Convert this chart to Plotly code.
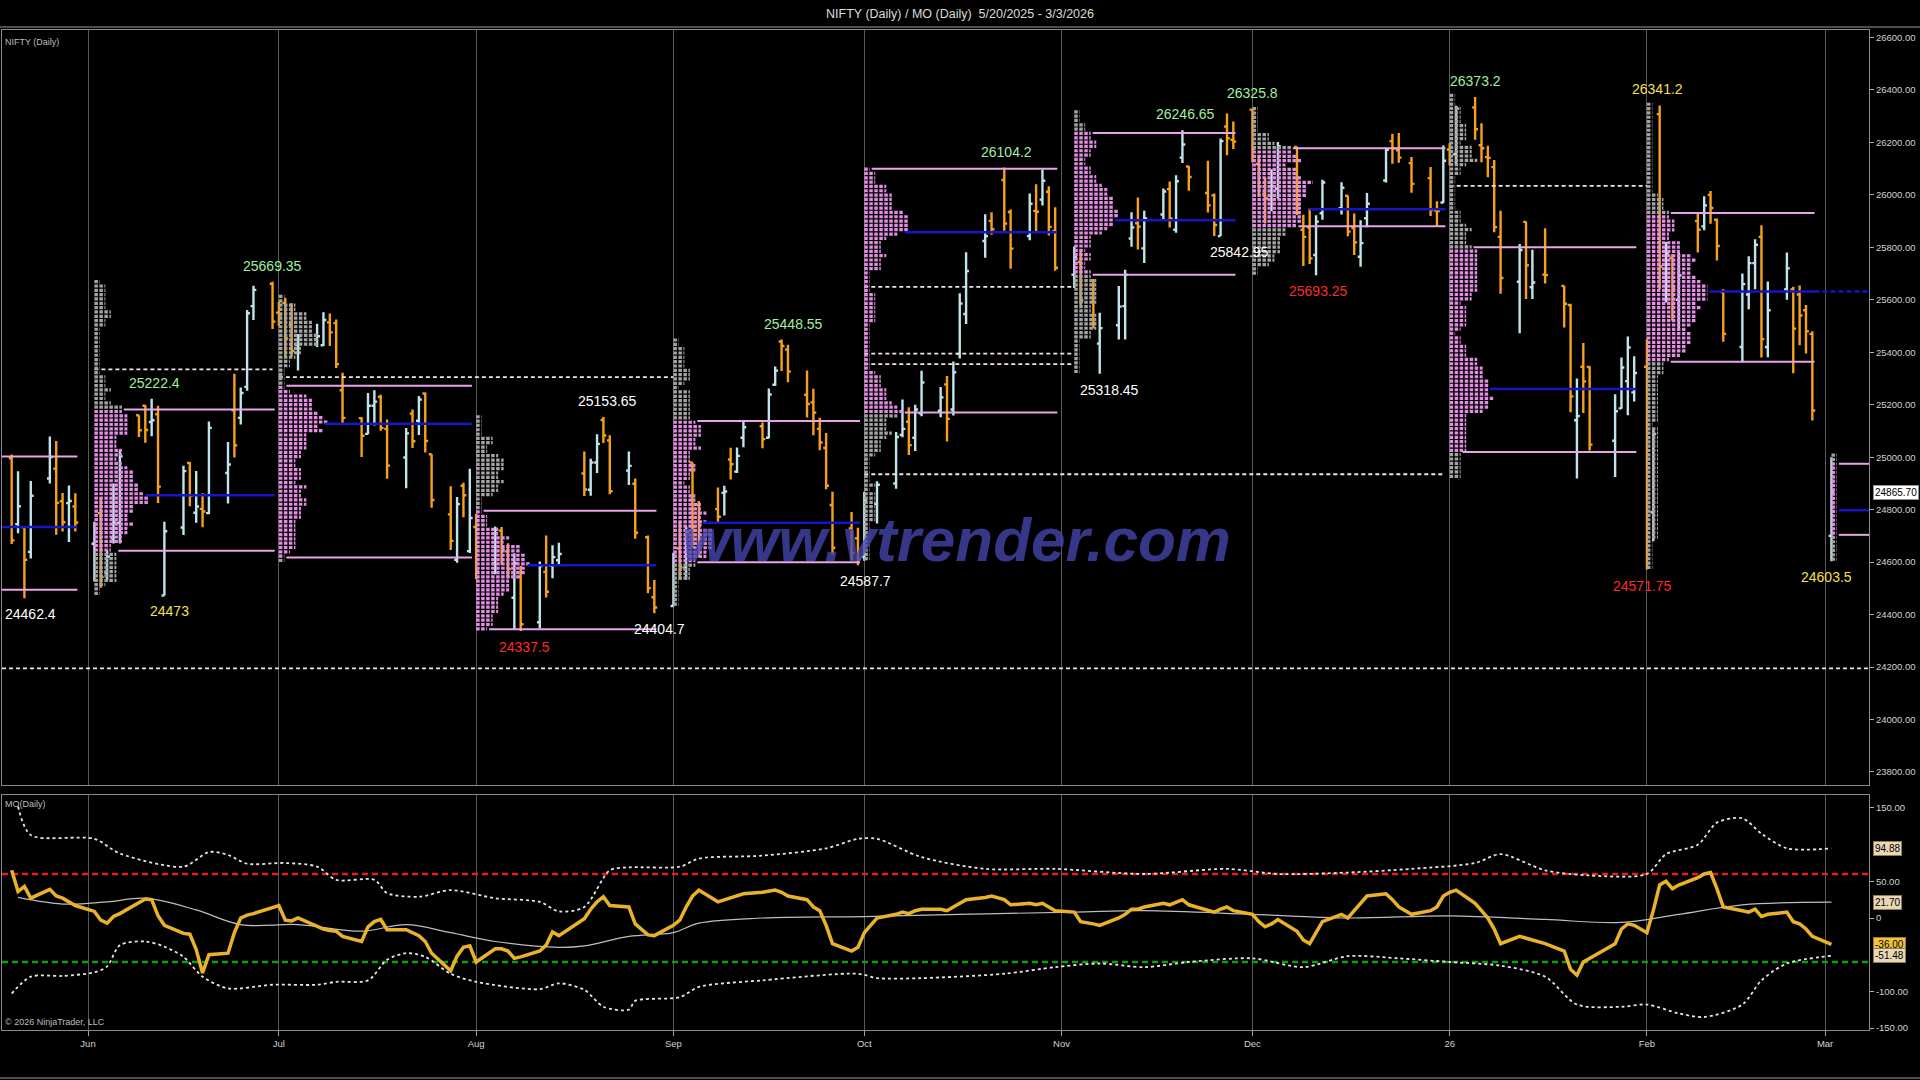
import pandas as pd
import plotly.graph_objects as go

# ---------------- DATA ----------------
trading_days = {
    "2025-05": [20, 21, 22, 23, 26, 27, 28, 29, 30],
    "2025-06": [2, 3, 4, 5, 6, 9, 10, 11, 12, 13, 16, 17, 18, 19, 20, 23, 24, 25, 26, 27, 30],
    "2025-07": [1, 2, 3, 4, 7, 8, 9, 10, 11, 14, 15, 16, 17, 18, 21, 22, 23, 24, 25, 28, 29, 30, 31],
    "2025-08": [1, 4, 5, 6, 7, 8, 11, 12, 13, 14, 18, 19, 20, 21, 22, 25, 26, 28, 29],
    "2025-09": [1, 2, 3, 4, 5, 8, 9, 10, 11, 12, 15, 16, 17, 18, 19, 22, 23, 24, 25, 26, 29, 30],
    "2025-10": [1, 3, 6, 7, 8, 9, 10, 13, 14, 15, 16, 17, 20, 21, 23, 24, 27, 28, 29, 30, 31],
    "2025-11": [3, 4, 6, 7, 10, 11, 12, 13, 14, 17, 18, 19, 20, 21, 24, 25, 26, 27, 28],
    "2025-12": [1, 2, 3, 4, 5, 8, 9, 10, 11, 12, 15, 16, 17, 18, 19, 22, 23, 24, 26, 29, 30, 31],
    "2026-01": [1, 2, 5, 6, 7, 8, 9, 12, 13, 14, 16, 19, 20, 21, 22, 23, 27, 28, 29, 30],
    "2026-02": [1, 2, 3, 4, 5, 6, 9, 10, 11, 12, 13, 16, 17, 18, 19, 20, 23, 24, 25, 26, 27],
    "2026-03": [2],
}

opens = [
    24996, 24745, 24733, 24639, 24919, 24956, 24832, 24825, 24812,
    24670, 24787, 24560, 24691, 24749, 25160, 25196, 25134, 25164, 24473, 24732, 24978, 24788, 24803, 24787, 24940, 25179, 25150, 25268, 25576, 25661,
    25551, 25588, 25505, 25428, 25450, 25427, 25514, 25511, 25255, 25149, 25089, 25196, 25230, 25108, 24999, 25166, 25139, 25243, 25011, 24782, 24609, 24891, 24642,
    24734, 24596, 24720, 24641, 24464, 24544, 24371, 24563, 24586, 24607, 24938, 24876, 24980, 25142, 25064, 24949, 24899, 24695, 24466,
    24433, 24653, 24579, 24980, 24819, 24802, 24864, 24991, 24945, 25074, 25118, 25074, 25276, 25441, 25410, 25238, 25209, 25108, 25035, 24818, 24728, 24691,
    24620, 24822, 24900, 25085, 25135, 25074, 25167, 25177, 25277, 25182, 25394, 25546, 25824, 25901, 26057, 25935, 25843, 25939, 25982, 26012, 25863,
    25696, 25744, 25593, 25433, 25503, 25576, 25834, 25892, 25796, 25925, 26022, 25867, 26142, 26108, 26007, 25998, 25843, 26261, 26210,
    26325, 26118, 26005, 25981, 26024, 26183, 25867, 25876, 25771, 25930, 25949, 25997, 25874, 25764, 25911, 26055, 26205, 26170, 26121, 26064, 25940, 25971,
    26173, 26155, 26333, 26189, 26144, 26106, 25840, 25669, 25897, 25648, 25696, 25653, 25580, 25141, 25345, 25344, 25063, 25186, 25290, 25247,
    25345, 24790, 26308, 25700, 25760, 25600, 25900, 25880, 26000, 25905, 25630, 25420, 25620, 25740, 25840, 25420, 25640, 25640, 25620, 25560, 25470,
    24700,
]
highs = [
    25010, 24946, 24737, 24909, 25079, 25062, 24864, 24892, 24863,
    24754, 24845, 24644, 24900, 25029, 25160, 25199, 25222.4, 25196, 24754, 24967, 24982, 24947, 24863, 25136, 25058, 25318, 25266, 25561, 25654, 25669.35,
    25593, 25608, 25587, 25470, 25509, 25553, 25548, 25525, 25322, 25152, 25245, 25255, 25238, 25144, 25111, 25182, 25233, 25247, 25011, 24889, 24848, 24903, 24956,
    24784, 24736, 24734, 24672, 24634, 24585, 24602, 24702, 24664, 24674, 25022, 24994, 25088, 25153.65, 25084, 25022, 24919, 24702, 24532,
    24636, 24756, 24737, 24980, 24833, 24885, 24891, 25036, 25037, 25139, 25132, 25262, 25346, 25448.55, 25429, 25331, 25261, 25150, 25092, 24868, 24791, 24731,
    24868, 24908, 25096, 25220, 25190, 25200, 25330, 25268, 25310, 25365, 25625, 25781, 25926, 25934, 26104.2, 25944, 26005, 26041, 26097, 26033, 25953,
    25803, 25787, 25679, 25551, 25653, 25715, 25934, 25990, 25940, 26024, 26051, 26075, 26246.65, 26110, 26130, 26005, 26215, 26310, 26280,
    26325.8, 26152, 26066, 26098, 26202, 26184, 25924, 25948, 25922, 26058, 26048, 25998, 25929, 25903, 26007, 26180, 26233, 26236, 26144, 26106, 25976, 26188,
    26197, 26340, 26373.2, 26273, 26187, 26133, 25940, 25813, 25899, 25791, 25873, 25654, 25585, 25300, 25435, 25347, 25240, 25380, 25460, 25385,
    25450, 25110, 26341.2, 25820, 25775, 25780, 25935, 25995, 26015, 25910, 25640, 25700, 25766, 25831, 25884, 25670, 25780, 25650, 25655, 25580, 25480,
    25000,
]
lows = [
    24669, 24710, 24462.4, 24614, 24900, 24704, 24717, 24677, 24717,
    24526, 24502, 24530, 24671, 24671, 25077, 25055, 25080, 24825, 24473, 24703, 24813, 24750, 24733, 24783, 24824, 24999, 25125, 25253, 25523, 25489,
    25500, 25378, 25385, 25331, 25420, 25424, 25424, 25340, 25129, 25001, 25088, 25121, 25101, 24918, 24882, 25035, 25085, 25018, 24807, 24646, 24598, 24771, 24635,
    24535, 24554, 24590, 24539, 24344, 24337.5, 24347, 24465, 24539, 24586, 24852, 24853, 24940, 25054, 24859, 24894, 24689, 24481, 24404.7,
    24432, 24532, 24533, 24654, 24621, 24751, 24778, 24915, 24940, 25038, 25034, 25072, 25272, 25329, 25286, 25151, 25084, 25027, 24878, 24629, 24606, 24587.7,
    24605, 24747, 24880, 25076, 25008, 25024, 25156, 25152, 25060, 25159, 25376, 25508, 25760, 25848, 25863, 25718, 25827, 25856, 25960, 25845, 25711,
    25645, 25578, 25491, 25318.45, 25449, 25449, 25802, 25792, 25740, 25906, 25876, 25856, 26122, 26016, 25933, 25842.95, 25843, 26151, 26175,
    26124, 25997, 25891, 25938, 25985, 25923, 25729, 25737, 25693.25, 25905, 25925, 25842, 25771, 25726, 25877, 26047, 26119, 26123, 26008, 25920, 25878, 25969,
    26113, 26119, 26210, 26124, 26067, 25858, 25623, 25473, 25603, 25603, 25662, 25494, 25171, 24919, 25169, 25026, 24925, 25185, 25160, 25212,
    24571.75, 24680, 25640, 25590, 25520, 25490, 25780, 25865, 25890, 25750, 25440, 25362, 25564, 25640, 25380, 25381, 25600, 25320, 25427, 25395, 25140,
    24603.5,
]
closes = [
    24683, 24813, 24609, 24853, 25001, 24826, 24752, 24833, 24751,
    24716, 24543, 24621, 24751, 25003, 25103, 25104, 25141, 24888, 24718, 24947, 24853, 24812, 24793, 25112, 24972, 25045, 25245, 25549, 25638, 25517,
    25541, 25453, 25405, 25461, 25461, 25523, 25476, 25355, 25150, 25082, 25196, 25212, 25112, 24968, 25091, 25061, 25220, 25062, 24837, 24681, 24821, 24855, 24768,
    24565, 24723, 24650, 24574, 24596, 24363, 24585, 24487, 24619, 24631, 24877, 24980, 25051, 25083, 24870, 24967, 24712, 24501, 24427,
    24625, 24580, 24716, 24734, 24741, 24773, 24869, 24973, 25005, 25114, 25069, 25239, 25330, 25424, 25327, 25203, 25170, 25056, 24891, 24655, 24635, 24611,
    24836, 24895, 25077, 25108, 25046, 25182, 25285, 25228, 25146, 25324, 25586, 25710, 25843, 25869, 25891, 25795, 25966, 25936, 26054, 25878, 25722,
    25763, 25598, 25510, 25492, 25574, 25695, 25876, 25879, 25910, 26013, 25910, 26052, 26192, 26068, 25960, 25885, 26205, 26216, 26203,
    26176, 26032, 25986, 26034, 26186, 25961, 25840, 25758, 25898, 26047, 26027, 25860, 25819, 25816, 25966, 26172, 26177, 26142, 26042, 25942, 25938, 26130,
    26147, 26329, 26250, 26178, 26141, 25877, 25683, 25790, 25732, 25666, 25694, 25585, 25232, 25157, 25289, 25048, 25175, 25342, 25418, 25321,
    24825, 25088, 25727, 25776, 25642, 25693, 25867, 25960, 25950, 25805, 25470, 25660, 25740, 25810, 25450, 25560, 25720, 25490, 25540, 25480, 25178,
    24865.70,
]
mo_values = [
    65, 36, 43, 27, 39, 30, 27, 22, 17,
    9, -3, -7, 2, 6, 22, 26, 25, 3, -10, -21, -22, -43, -75, -50, -48, -20, 0, 4, 6, 15,
    17, -3, -4, 0, -12, -15, -17, -18, -25, -32, -12, -5, -2, -16, -16, -20, -24, -32, -48, -72, -52, -40, -38,
    -60, -42, -42, -45, -55, -53, -45, -37, -19, -24, -1, 12, 22, 29, 17, 15, -8, -23, -24,
    -10, -3, 15, 30, 38, 22, 25, 28, 30, 33, 35, 36, 38, 35, 30, 25, 15, 10, -10, -35, -45, -40,
    -20, 0, 5, 8, 6, 10, 12, 12, 10, 15, 20, 25, 28, 30, 25, 18, 20, 18, 20, 15, 10,
    8, -5, -8, -10, 0, 5, 12, 12, 15, 20, 18, 22, 25, 18, 10, 8, 12, 15, 10,
    5, -5, -12, -8, -2, -18, -30, -35, -20, -5, 5, 0, 10, 20, 30, 33, 25, 15, 5, 10, 15, 30,
    35, 38, 20, 10, 0, -15, -35, -25, -28, -30, -35, -45, -70, -78, -60, -55, -35, -15, -8, -10,
    -20, 10, 45, 50, 40, 45, 55, 60, 62, 40, 15, 10, 8, 12, 2, 5, 8, -5, -8, -15, -25,
    -36,
]

upper_band_dates = ["2025-05-21", "2025-05-23", "2025-06-02", "2025-06-06", "2025-06-16", "2025-06-20", "2025-06-23",
                    "2025-06-26", "2025-07-02", "2025-07-07", "2025-07-10", "2025-07-16", "2025-07-18", "2025-07-23",
                    "2025-07-28", "2025-08-04", "2025-08-11", "2025-08-14", "2025-08-18", "2025-08-22", "2025-08-25",
                    "2025-09-02", "2025-09-05", "2025-09-15", "2025-09-25", "2025-09-30", "2025-10-03", "2025-10-10",
                    "2025-10-20", "2025-10-31", "2025-11-14", "2025-11-27", "2025-12-05", "2025-12-16", "2025-12-26",
                    "2026-01-05", "2026-01-09", "2026-01-16", "2026-01-23", "2026-02-01", "2026-02-04", "2026-02-09",
                    "2026-02-12", "2026-02-16", "2026-02-19", "2026-02-23", "2026-03-02"]
upper_band_values = [152, 113, 108, 88, 70, 90, 86,
                     74, 75, 70, 52, 52, 34, 29,
                     38, 27, 22, 9, 15, 65, 69,
                     70, 81, 85, 95, 108, 108, 83,
                     67, 67, 60, 67, 60, 62, 67,
                     75, 87, 65, 58, 60, 87, 100,
                     130, 136, 115, 95, 94.88]
lower_band_dates = ["2025-05-20", "2025-05-23", "2025-05-28", "2025-06-02", "2025-06-04", "2025-06-06", "2025-06-10",
                    "2025-06-13", "2025-06-16", "2025-06-19", "2025-06-23", "2025-06-30", "2025-07-07", "2025-07-10",
                    "2025-07-15", "2025-07-18", "2025-07-21", "2025-07-24", "2025-07-28", "2025-08-01", "2025-08-11",
                    "2025-08-14", "2025-08-18", "2025-08-21", "2025-08-25", "2025-08-26", "2025-09-02", "2025-09-05",
                    "2025-09-15", "2025-09-30", "2025-10-03", "2025-10-10", "2025-10-23", "2025-10-31", "2025-11-07",
                    "2025-11-14", "2025-11-21", "2025-12-01", "2025-12-09", "2025-12-16", "2025-12-24", "2026-01-01",
                    "2026-01-09", "2026-01-16", "2026-01-21", "2026-01-28", "2026-02-01", "2026-02-06", "2026-02-10",
                    "2026-02-16", "2026-02-19", "2026-02-23", "2026-03-02"]
lower_band_values = [-103, -80, -79, -74, -66, -37, -32,
                     -39, -53, -80, -96, -91, -91, -87,
                     -85, -57, -48, -53, -76, -87, -97,
                     -89, -98, -121, -125, -113, -108, -94,
                     -85, -76, -82, -82, -76, -67, -62,
                     -67, -60, -55, -67, -52, -55, -60,
                     -65, -80, -118, -121, -118, -130, -135,
                     -118, -85, -62, -51.48]
mo_avg_dates = ["2025-05-21", "2025-05-28", "2025-06-04", "2025-06-10", "2025-06-18", "2025-06-25", "2025-07-04",
                "2025-07-14", "2025-07-21", "2025-07-28", "2025-08-04", "2025-08-14", "2025-08-18", "2025-08-25",
                "2025-09-01", "2025-09-05", "2025-09-15", "2025-10-01", "2025-10-16", "2025-11-03", "2025-11-14",
                "2025-12-01", "2025-12-16", "2026-01-01", "2026-01-16", "2026-01-28", "2026-02-06", "2026-02-16",
                "2026-03-02"]
mo_avg_values = [28, 19, 22, 27, 11, -9, -9,
                 -18, -9, -20, -32, -40, -38, -25,
                 -20, -7, 0, 2, 5, 8, 10,
                 5, 0, 3, -2, -6, 5, 18,
                 21.70]
mo_overbought = 60
mo_oversold = -60

level_months = ["2025-05", "2025-06", "2025-07", "2025-08", "2025-09", "2025-10",
                "2025-11", "2025-12", "2026-01", "2026-02", "2026-03"]
poc_levels = [24734, 24855, 25128, 24588, 24750, 25858, 25903, 25945, 25260, 25632, 24798]
vah_levels = [25003, 25182, 25272, 24796, 25138, 26100, 26236, 26178, 25800, 25931, 24975]
val_levels = [24495, 24643, 24618, 24344, 24600, 25170, 25696, 25880, 25020, 25364, 24704]

naked_prices = [25335, 25305, 25649, 25395, 25355, 24935, 26034, 24195]
naked_starts = ["2025-06-02", "2025-07-01", "2025-10-01", "2025-10-01", "2025-10-01", "2025-10-01", "2026-01-01", None]
naked_ends = ["2025-06-30", "2025-09-01", "2025-11-03", "2025-11-03", "2025-11-03", "2025-12-31", "2026-02-01", None]

swing_dates = ["2025-05-22", "2025-06-11", "2025-06-13", "2025-06-30", "2025-08-08", "2025-08-21", "2025-08-29",
               "2025-09-18", "2025-09-30", "2025-10-23", "2025-11-07", "2025-11-20", "2025-11-25", "2025-12-01",
               "2025-12-11", "2026-01-05", "2026-02-03", "2026-02-01", "2026-03-02"]
swing_kinds = ["L", "H", "L", "H", "L", "H", "L", "H", "L", "H", "L", "H", "L", "H", "L", "H", "H", "L", "L"]
swing_colors = ["white", "green", "yellow", "green", "red", "white", "white", "green", "white", "green", "white",
                "green", "white", "green", "red", "green", "yellow", "red", "yellow"]
swing_xshift = [6, 3, 5, 0, 4, 4, 5, 12, 8, 2, 10, 3, 25, 0, 2, 0, -2, -4, -5]

month_ticks = ["2025-06-01", "2025-07-01", "2025-08-01", "2025-09-01", "2025-10-01", "2025-11-01",
               "2025-12-01", "2026-01-01", "2026-02-01", "2026-03-01"]
month_labels = ["Jun", "Jul", "Aug", "Sep", "Oct", "Nov", "Dec", "26", "Feb", "Mar"]
price_ticks = [23800 + 200 * k for k in range(15)]
price_grid = [23800, 24400, 25000, 25600, 26200]
mo_ticks = [150, 50, 0, -100, -150]
mo_grid = [150, 0, -150]

# ---------------- STYLE ----------------
FONT = "Liberation Sans Narrow, Arial Narrow, Liberation Sans, Arial, sans-serif"
BG = "#000000"
GRID = "#5a5a5a"
FRAME = "#8a8a8a"
UP = "#bfe4ea"
DOWN = "#f5a11c"
PINK = "#e48de4"
GRAY = "#a4a4a4"
VA_LINE = "#e8a6e8"
POC = "#1616c8"
LABEL_COLORS = {"white": "#ffffff", "green": "#9ff09f", "yellow": "#f5e04a", "red": "#ff2a2a"}
RANGE_X = ["2025-05-18 11:30", "2026-03-07 21:40"]
PLOT_W = 1867
X0, X1 = pd.Timestamp(RANGE_X[0]), pd.Timestamp(RANGE_X[1])
PX_PER_DAY = PLOT_W / ((X1 - X0).total_seconds() / 86400)
TPO_DAYS = 5.5 / PX_PER_DAY
BIN = 16.5

dates = [f"{ym}-{d:02d}" for ym, days in trading_days.items() for d in days]
df = pd.DataFrame(dict(date=pd.to_datetime(dates), o=opens, h=highs, l=lows, c=closes, mo=mo_values))
df["ym"] = df["date"].dt.strftime("%Y-%m")


def iso(t):
    return pd.Timestamp(t).strftime("%Y-%m-%d %H:%M:%S")


def count_at(sub, level):
    return int(((sub["l"] <= level) & (sub["h"] >= level)).sum())


# ---------------- PROFILES & LEVELS ----------------
pink_x, pink_y, gray_x, gray_y = [], [], [], []
poc_x, poc_y, va_x, va_y = [], [], [], []
for ym, poc, vah, val in zip(level_months, poc_levels, vah_levels, val_levels):
    sub = df[df["ym"] == ym]
    start = sub["date"].iloc[0]
    end = sub["date"].iloc[-1] + pd.Timedelta(hours=8)
    if ym == level_months[-1]:
        end = X1
    if start >= X0 + pd.Timedelta(days=5):
        lo, hi = sub["l"].min(), sub["h"].max()
        n = int((hi - lo) / BIN) + 1
        for k in range(n):
            lvl = lo + BIN * k + BIN / 2
            cnt = max(count_at(sub, lvl), 1)
            xs = [iso(start), iso(start + pd.Timedelta(days=cnt * TPO_DAYS)), None]
            if val <= lvl <= vah:
                pink_x += xs; pink_y += [lvl, lvl, None]
            else:
                gray_x += xs; gray_y += [lvl, lvl, None]
        line_start = lambda lv, s=start, sb=sub: s + pd.Timedelta(days=count_at(sb, lv) * TPO_DAYS + 0.3)
    else:
        line_start = lambda lv: X0
    poc_x += [iso(line_start(poc)), iso(end), None]; poc_y += [poc, poc, None]
    for lv in (vah, val):
        va_x += [iso(line_start(lv)), iso(end), None]; va_y += [lv, lv, None]

naked_x, naked_y = [], []
for p, s, e in zip(naked_prices, naked_starts, naked_ends):
    naked_x += [iso(s) if s else iso(X0), iso(e) if e else iso(X1), None]
    naked_y += [p, p, None]

feb = df[df["ym"] == "2026-02"]
feb_poc = poc_levels[level_months.index("2026-02")]

fig = go.Figure()
fig.add_trace(go.Scatter(x=naked_x, y=naked_y, mode="lines", xaxis="x", yaxis="y",
                         line=dict(color="#f2e4e4", width=1.8, dash="4px,3px"), hoverinfo="skip"))
fig.add_trace(go.Scatter(x=gray_x, y=gray_y, mode="lines", xaxis="x", yaxis="y",
                         line=dict(color=GRAY, width=3.2, dash="3.5px,1.5px"), hoverinfo="skip"))
fig.add_trace(go.Scatter(x=pink_x, y=pink_y, mode="lines", xaxis="x", yaxis="y",
                         line=dict(color=PINK, width=3.2, dash="3.5px,1.5px"), hoverinfo="skip"))
fig.add_trace(go.Ohlc(x=dates, open=opens, high=highs, low=lows, close=closes, xaxis="x", yaxis="y",
                      increasing=dict(line=dict(color=UP, width=2.4)),
                      decreasing=dict(line=dict(color=DOWN, width=2.4)),
                      tickwidth=0.45, hoverinfo="skip"))
fig.add_trace(go.Scatter(x=va_x, y=va_y, mode="lines", xaxis="x", yaxis="y",
                         line=dict(color=VA_LINE, width=2), hoverinfo="skip"))
fig.add_trace(go.Scatter(x=poc_x, y=poc_y, mode="lines", xaxis="x", yaxis="y",
                         line=dict(color=POC, width=2.5), hoverinfo="skip"))
fig.add_trace(go.Scatter(x=[iso(feb["date"].iloc[-1] + pd.Timedelta(hours=8)), iso(X1)], y=[feb_poc, feb_poc],
                         mode="lines", xaxis="x", yaxis="y",
                         line=dict(color=POC, width=2.5, dash="5px,3px"), hoverinfo="skip"))

# ---------------- MO PANEL ----------------
fig.add_trace(go.Scatter(x=[iso(X0), iso(X1)], y=[mo_overbought] * 2, mode="lines", xaxis="x2", yaxis="y2",
                         line=dict(color="#e81c1c", width=2.5, dash="6px,4px"), hoverinfo="skip"))
fig.add_trace(go.Scatter(x=[iso(X0), iso(X1)], y=[mo_oversold] * 2, mode="lines", xaxis="x2", yaxis="y2",
                         line=dict(color="#139c13", width=2.5, dash="6px,4px"), hoverinfo="skip"))
fig.add_trace(go.Scatter(x=upper_band_dates, y=upper_band_values, mode="lines", xaxis="x2", yaxis="y2",
                         line=dict(color="#e6e6e6", width=1.8, dash="dot", shape="spline", smoothing=0.8),
                         hoverinfo="skip"))
fig.add_trace(go.Scatter(x=lower_band_dates, y=lower_band_values, mode="lines", xaxis="x2", yaxis="y2",
                         line=dict(color="#e6e6e6", width=1.8, dash="dot", shape="spline", smoothing=0.8),
                         hoverinfo="skip"))
fig.add_trace(go.Scatter(x=mo_avg_dates, y=mo_avg_values, mode="lines", xaxis="x2", yaxis="y2",
                         line=dict(color="#bdbdbd", width=1.2, shape="spline", smoothing=1.0), hoverinfo="skip"))
fig.add_trace(go.Scatter(x=dates, y=mo_values, mode="lines", xaxis="x2", yaxis="y2",
                         line=dict(color="#e8b32a", width=3.5), hoverinfo="skip"))

# ---------------- ANNOTATIONS ----------------
ann = []


def fmt_price(v):
    return f"{v:.2f}".rstrip("0").rstrip(".")


for d, kind, col, xs in zip(swing_dates, swing_kinds, swing_colors, swing_xshift):
    row = df[df["date"] == pd.Timestamp(d)].iloc[0]
    v = row["h"] if kind == "H" else row["l"]
    ann.append(dict(x=d, y=v, xref="x", yref="y", text=fmt_price(v), showarrow=False,
                    yshift=16 if kind == "H" else -16, xshift=xs,
                    font=dict(family=FONT, size=14, color=LABEL_COLORS[col])))

ann.append(dict(x=0.511, y=0.491, xref="paper", yref="paper", text="<b><i>www.vtrender.com</i></b>",
                showarrow=False, font=dict(family="Liberation Sans, Arial, sans-serif", size=62,
                                           color="rgba(70,70,175,0.78)")))
ann.append(dict(x=1, y=closes[-1], xref="paper", yref="y", text=f"{closes[-1]:.2f}", showarrow=False,
                xanchor="left", xshift=4, bgcolor="#ffffff", bordercolor="#909090", borderwidth=1, borderpad=1,
                font=dict(family=FONT, size=10, color="#000000")))
box_specs = [(upper_band_values[-1], "#e9d7b5"), (mo_avg_values[-1], "#e9d7b5"),
             (mo_values[-1], "#f1c23c"), (lower_band_values[-1], "#e9d7b5")]
for v, bg in box_specs:
    ann.append(dict(x=1, y=v, xref="paper", yref="y2", text=f"{v:.2f}", showarrow=False,
                    xanchor="left", xshift=4, bgcolor=bg, bordercolor="#907a50", borderwidth=1, borderpad=1,
                    font=dict(family=FONT, size=10, color="#000000")))
ann.append(dict(x=0.0, y=0.988, xref="paper", yref="paper", text="NIFTY (Daily)", showarrow=False,
                xanchor="left", yanchor="middle", xshift=1, font=dict(family=FONT, size=9, color="#bdbdbd")))
ann.append(dict(x=0.0, y=0.226, xref="paper", yref="paper", text="MO(Daily)", showarrow=False,
                xanchor="left", yanchor="middle", xshift=1, font=dict(family=FONT, size=9, color="#bdbdbd")))
ann.append(dict(x=0.0, y=0.008, xref="paper", yref="paper", text="© 2026 NinjaTrader, LLC", showarrow=False,
                xanchor="left", yanchor="middle", xshift=1, font=dict(family=FONT, size=9, color="#bdbdbd")))

axis_font = dict(family=FONT, size=9.5, color="#d2d2d2")
fig.update_layout(
    width=1920, height=1080,
    paper_bgcolor=BG, plot_bgcolor=BG,
    margin=dict(l=2, r=51, t=30, b=50),
    showlegend=False,
    font=dict(family=FONT, color="#d2d2d2"),
    title=dict(text="NIFTY (Daily) / MO (Daily)\u00a0\u00a05/20/2025 - 3/3/2026", x=0.5, xanchor="center",
               y=0.987, yanchor="middle", font=dict(family=FONT, size=12.5, color="#dcdcdc")),
    xaxis=dict(type="date", domain=[0, 1], range=RANGE_X, anchor="y", tickvals=month_ticks,
               showticklabels=False, ticks="", showgrid=True, gridcolor=GRID, gridwidth=1,
               showline=True, mirror=True, linecolor=FRAME, zeroline=False, rangeslider=dict(visible=False)),
    xaxis2=dict(type="date", matches="x", anchor="y2", tickvals=month_ticks, ticktext=month_labels,
                ticks="outside", ticklen=5, tickcolor="#a0a0a0", tickfont=axis_font,
                showgrid=True, gridcolor=GRID, gridwidth=1, showline=True, mirror=True, linecolor=FRAME,
                zeroline=False),
    yaxis=dict(domain=[0.245, 1], range=[23750.4, 26628.6], side="right", anchor="x",
               tickvals=price_ticks, ticktext=[f"{v:.2f}" for v in price_ticks], ticks="outside",
               ticklen=4, tickcolor="#b0b0b0", tickfont=axis_font, showgrid=False, zeroline=False,
               showline=True, mirror=True, linecolor=FRAME),
    yaxis3=dict(overlaying="y", range=[23750.4, 26628.6], side="right", anchor="x", tickvals=price_grid,
                showticklabels=False, ticks="", showgrid=True, gridcolor=GRID, gridwidth=1, zeroline=False,
                showline=False),
    yaxis2=dict(domain=[0, 0.235], range=[-152.7, 167.7], side="right", anchor="x2",
                tickvals=mo_ticks, ticktext=["0" if v == 0 else f"{v:.2f}" for v in mo_ticks],
                ticks="outside", ticklen=4, tickcolor="#b0b0b0", tickfont=axis_font, showgrid=False,
                zeroline=False, showline=True, mirror=True, linecolor=FRAME),
    yaxis4=dict(overlaying="y2", range=[-152.7, 167.7], side="right", anchor="x2", tickvals=mo_grid,
                showticklabels=False, ticks="", showgrid=True, gridcolor=GRID, gridwidth=1, zeroline=False,
                showline=False),
    annotations=ann,
    shapes=[dict(type="line", xref="paper", yref="paper", x0=-0.01, x1=1.03, y0=1.003, y1=1.003,
                 line=dict(color="#9a9a9a", width=1)),
            dict(type="line", xref="paper", yref="paper", x0=-0.01, x1=1.03, y0=-0.048, y1=-0.048,
                 line=dict(color="#9a9a9a", width=1))],
)

fig.write_html("out.html", config={"displayModeBar": False},
               post_script="document.body.style.margin='0';document.body.style.overflow='hidden';")
